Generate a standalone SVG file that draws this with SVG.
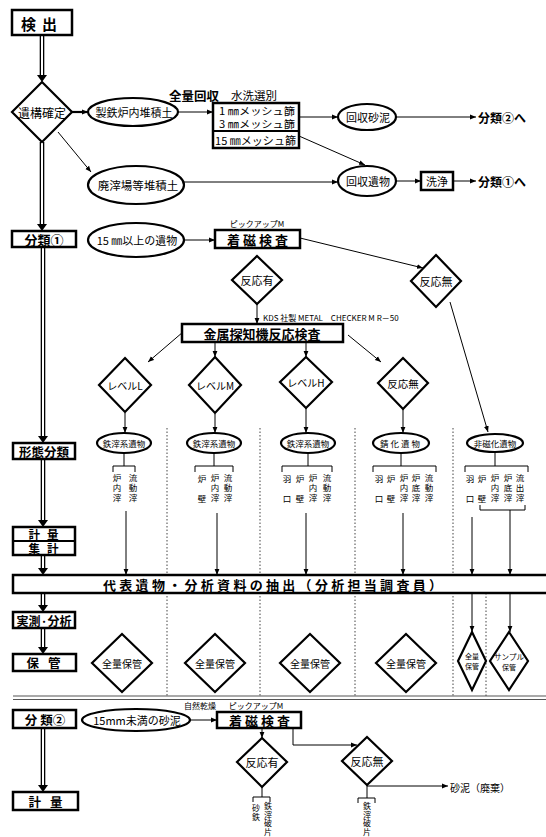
<svg xmlns="http://www.w3.org/2000/svg" width="546" height="837" viewBox="0 0 546 837">
<defs>
<marker id="ar" viewBox="0 0 10 10" refX="10" refY="5" markerWidth="6" markerHeight="6" markerUnits="userSpaceOnUse" orient="auto"><path d="M0,1 L10,5 L0,9 z" fill="#000"/></marker>
</defs>
<style>
text{font-family:"Noto Sans CJK JP","Noto Sans",sans-serif;fill:#000}
.c{text-anchor:middle;dominant-baseline:central}
.m{dominant-baseline:central}
.b{font-weight:bold}
.box{fill:#fff;stroke:#000;stroke-width:2.5}
.sh{fill:#fff;stroke:#000;stroke-width:2.2}
.ln{fill:none;stroke:#000;stroke-width:1}
.ar{fill:none;stroke:#000;stroke-width:1;marker-end:url(#ar)}
.dbo{stroke:#000;stroke-width:4.6;fill:none}
.dbi{stroke:#fff;stroke-width:2;fill:none}
.hd{fill:#000}
.dot{stroke:#444;stroke-width:1;stroke-dasharray:1.5 2;fill:none}
.v{font-size:8.5px;writing-mode:vertical-rl;letter-spacing:1.5px}
.v2{font-size:8px;writing-mode:vertical-rl;letter-spacing:0.5px}
</style>
<rect width="546" height="837" fill="#fff"/>

<g id="dividers">
<path class="dot" d="M167,428V696M260,428V696M355,428V696M453,428V696M486,593V696"/>
<path d="M13,696H546M13,699.5H546" stroke="#555" stroke-width="1.2" fill="none"/>
</g>

<g id="connectors">
<path class="dbo" d="M42,35V76M42,142V225M43,247V437M43,459V521M43,555V569M43,593V606M43,628V648M43,728V786"/>
<path class="dbi" d="M42,35V76M42,142V225M43,247V437M43,459V521M43,555V569M43,593V606M43,628V648M43,728V786"/>
<polygon class="hd" points="37,75 47,75 42,82"/>
<polygon class="hd" points="37,224 47,224 42,231"/>
<polygon class="hd" points="38,436 48,436 43,443"/>
<polygon class="hd" points="38,520 48,520 43,527"/>
<polygon class="hd" points="38,568 48,568 43,575"/>
<polygon class="hd" points="38,605 48,605 43,612"/>
<polygon class="hd" points="38,647 48,647 43,654"/>
<polygon class="hd" points="38,785 48,785 43,792"/>

<path d="M72,112H88" stroke="#000" stroke-width="2.2" fill="none" marker-end="url(#ar)"/>
<path class="ar" d="M58,132L91,172"/>
<path class="ar" d="M178,112H213"/>
<path class="ar" d="M299,117H338"/>
<path class="ar" d="M396,117H476"/>
<path class="ar" d="M299,136L365,165"/>
<path class="ar" d="M184,182H338"/>
<path class="ar" d="M396,181H421"/>
<path class="ar" d="M453,181H476"/>

<path class="ar" d="M184,240H215"/>
<path class="ar" d="M300,238L423,268"/>
<path class="ar" d="M257,304V324"/>
<path class="ar" d="M183,332L148,362"/>
<path class="ar" d="M215,342V357"/>
<path class="ar" d="M306,342V357"/>
<path class="ar" d="M348,335L381,362"/>
<path class="ar" d="M450,302L488,432"/>
<path class="ar" d="M125,413V433"/>
<path class="ar" d="M215,414V433"/>
<path class="ar" d="M306,408V433"/>
<path class="ar" d="M403,409V433"/>

<path class="ln" d="M124,453V466M113,472V466H135V472"/>
<path class="ln" d="M214,453V466M195,472V466H233V472"/>
<path class="ln" d="M308,453V466M282,472V466H332V472"/>
<path class="ln" d="M401,453V466M373,472V466H436V472"/>
<path class="ln" d="M495,453V466M465,472V466H528V472"/>
<path class="ln" d="M480,505V510H525V505"/>

<path class="ar" d="M126,511V575"/>
<path class="ar" d="M217,513V575"/>
<path class="ar" d="M306,513V575"/>
<path class="ar" d="M403,513V575"/>
<path class="ar" d="M472,517V575"/>
<path class="ar" d="M510,510V575"/>
<path class="ar" d="M472,593V632"/>
<path class="ar" d="M510,593V632"/>

<path class="ar" d="M191,720H217"/>
<path class="ar" d="M262,728V738"/>
<path class="ar" d="M293,728V745H357"/>
<path class="ar" d="M367,786H448"/>
<path class="ln" d="M262,787V797M253,802V797H270V802"/>
<path class="ln" d="M367,785V798M358,803V798H375V803"/>
</g>

<g id="n-kenshutsu"><rect class="box" x="12" y="10" width="60" height="25"/><text class="c b" x="42" y="23" font-size="15" letter-spacing="6">検出</text></g>
<g id="n-ikou"><polygon class="sh" points="42,82 72,112 42,142 12,112"/><text class="c" x="42" y="112" font-size="12">遺構確定</text></g>
<g id="n-bunrui1"><rect class="box" x="12" y="231" width="64" height="16"/><text class="c b" x="44" y="239" font-size="13">分類①</text></g>
<g id="n-keitai"><rect class="box" x="13" y="443" width="62" height="16"/><text class="c b" x="44" y="451" font-size="12.5">形態分類</text></g>
<g id="n-keiryo"><rect class="box" x="13" y="527" width="62" height="28"/><path d="M13,541H75" stroke="#000" stroke-width="2"/><text class="c b" x="47" y="534" font-size="11.5" letter-spacing="7">計量</text><text class="c b" x="47" y="548" font-size="11.5" letter-spacing="7">集計</text></g>
<g id="n-jissoku"><rect class="box" x="13" y="612" width="62" height="16"/><text class="c b" x="44" y="620" font-size="12">実測·分析</text></g>
<g id="n-hokan"><rect class="box" x="13" y="654" width="63" height="17"/><text class="c b" x="48" y="662.5" font-size="12.5" letter-spacing="9">保管</text></g>
<g id="n-bunrui2"><rect class="box" x="13" y="710" width="63" height="18"/><text class="c b" x="45" y="719" font-size="12.5">分 類②</text></g>
<g id="n-keiryo2"><rect class="box" x="13" y="792" width="65" height="18"/><text class="c b" x="50" y="801" font-size="12.5" letter-spacing="9">計量</text></g>

<g id="n-seitetsu"><ellipse class="sh" cx="133" cy="112" rx="45" ry="14"/><text class="c" x="134" y="112" font-size="11">製鉄炉内堆積土</text></g>
<g id="n-haisai"><ellipse class="sh" cx="136" cy="185" rx="48" ry="19"/><text class="c" x="138" y="185" font-size="11.5">廃滓場等堆積土</text></g>
<g id="n-label1"><text class="c b" x="194" y="95" font-size="12.5">全量回収</text><text class="c" x="254" y="95" font-size="11.5">水洗選別</text></g>
<g id="n-mesh"><rect class="box" x="213" y="103" width="86" height="45"/><path d="M213,131H299" stroke="#000" stroke-width="2"/>
<text class="m" x="219" y="110.5" font-size="10.5" textLength="76" lengthAdjust="spacingAndGlyphs">1 ㎜メッシュ篩</text>
<text class="m" x="219" y="123.5" font-size="10.5" textLength="76" lengthAdjust="spacingAndGlyphs">3 ㎜メッシュ篩</text>
<text class="m" x="215" y="140" font-size="11" textLength="81" lengthAdjust="spacingAndGlyphs">15 ㎜メッシュ篩</text></g>
<g id="n-kaishu-sadei"><ellipse class="sh" cx="367" cy="117" rx="29" ry="13"/><text class="c" x="368" y="117" font-size="11">回収砂泥</text></g>
<g id="n-kaishu-ibutsu"><ellipse class="sh" cx="367" cy="181" rx="29" ry="15"/><text class="c" x="368" y="181" font-size="11">回収遺物</text></g>
<g id="n-senjo"><rect class="box" x="421" y="172" width="32" height="18"/><text class="c" x="437" y="181" font-size="11">洗浄</text></g>
<g id="n-to2"><text class="m b" x="478" y="117" font-size="12">分類②へ</text></g>
<g id="n-to1"><text class="m b" x="478" y="181" font-size="12">分類①へ</text></g>

<g id="n-15ijo"><ellipse class="sh" cx="136" cy="240" rx="48" ry="17"/><text class="c" x="137" y="240" font-size="11">15 ㎜以上の遺物</text></g>
<g id="n-chakuji1"><text class="c" x="257" y="223" font-size="8">ピックアップM</text><rect class="box" x="215" y="230" width="85" height="18"/><text class="c b" x="259" y="239" font-size="13" letter-spacing="3">着磁検査</text></g>
<g id="n-hanno-ari1"><polygon class="sh" points="257,256 282,280 257,304 232,280"/><text class="c" x="257" y="280" font-size="11">反応有</text></g>
<g id="n-hanno-nashi1"><polygon class="sh" points="436,255 461,281 436,307 411,281"/><text class="c" x="436" y="281" font-size="11">反応無</text></g>
<g id="n-kinzoku"><text class="m" x="263" y="317" font-size="8">KDS 社製 METAL　CHECKER M R－50</text><rect class="box" x="182" y="324" width="161" height="18"/><text class="c" x="262" y="333" font-size="13" font-weight="600">金属探知機反応検査</text></g>
<g id="n-levelL"><polygon class="sh" points="125,358 151,385 125,412 99,385"/><text class="c" x="125" y="385" font-size="10">レベルL</text></g>
<g id="n-levelM"><polygon class="sh" points="215,357 241,385 215,413 189,385"/><text class="c" x="215" y="385" font-size="10">レベルM</text></g>
<g id="n-levelH"><polygon class="sh" points="306,357 332,382 306,408 280,382"/><text class="c" x="306" y="382" font-size="10">レベルH</text></g>
<g id="n-hanno-nashi2"><polygon class="sh" points="403,358 428,383 403,409 378,383"/><text class="c" x="403" y="383" font-size="10.5">反応無</text></g>

<g id="n-tessai1"><ellipse class="sh" cx="124" cy="443" rx="27" ry="10"/><text class="c" x="124" y="443" font-size="8.5">鉄滓系遺物</text></g>
<g id="n-tessai2"><ellipse class="sh" cx="214" cy="443" rx="27" ry="10"/><text class="c" x="214" y="443" font-size="8.5">鉄滓系遺物</text></g>
<g id="n-tessai3"><ellipse class="sh" cx="308" cy="443" rx="27" ry="10"/><text class="c" x="308" y="443" font-size="8.5">鉄滓系遺物</text></g>
<g id="n-sabika"><ellipse class="sh" cx="401" cy="443" rx="28" ry="10"/><text class="c" x="401" y="443" font-size="8.5" letter-spacing="2">錆化遺物</text></g>
<g id="n-hijika"><ellipse class="sh" cx="495" cy="443" rx="28" ry="9"/><text class="c" x="495" y="443" font-size="8.5">非磁化遺物</text></g>

<g id="n-labels">
<text class="v" x="117" y="474">炉内滓</text>
<text class="v" x="133" y="474">流動滓</text>
<text class="v" x="202" y="475">炉　壁</text>
<text class="v" x="215" y="474">炉内滓</text>
<text class="v" x="228" y="474">流動滓</text>
<text class="v" x="287" y="475">羽　口</text>
<text class="v" x="300" y="475">炉　壁</text>
<text class="v" x="313" y="474">炉内滓</text>
<text class="v" x="327" y="474">流動滓</text>
<text class="v" x="379" y="475">羽　口</text>
<text class="v" x="391" y="475">炉　壁</text>
<text class="v" x="404" y="474">炉内滓</text>
<text class="v" x="416" y="474">炉底滓</text>
<text class="v" x="429" y="474">流動滓</text>
<text class="v" x="470" y="475">羽　口</text>
<text class="v" x="482" y="475">炉　壁</text>
<text class="v" x="495" y="474">炉内滓</text>
<text class="v" x="508" y="474">炉底滓</text>
<text class="v" x="520" y="474">流出滓</text>
</g>

<g id="n-band"><rect class="box" x="13" y="575" width="540" height="18"/><text class="m b" x="103" y="584.5" font-size="13" letter-spacing="3.3">代表遺物・分析資料の抽出（分析担当調査員）</text></g>

<g id="n-hokan1"><polygon class="sh" points="122,634 152,663 122,692 92,663"/><text class="c" x="122" y="663" font-size="10">全量保管</text></g>
<g id="n-hokan2"><polygon class="sh" points="215,634 245,663 215,692 185,663"/><text class="c" x="215" y="663" font-size="10">全量保管</text></g>
<g id="n-hokan3"><polygon class="sh" points="310,634 340,663 310,692 280,663"/><text class="c" x="310" y="663" font-size="10">全量保管</text></g>
<g id="n-hokan4"><polygon class="sh" points="406,634 436,663 406,692 376,663"/><text class="c" x="406" y="663" font-size="10">全量保管</text></g>
<g id="n-hokan5"><polygon class="sh" points="472,632 486,661 472,690 458,661"/><text class="c" x="472" y="656" font-size="7">全量</text><text class="c" x="472" y="666" font-size="7">保管</text></g>
<g id="n-hokan6"><polygon class="sh" points="509,632 528,661 509,690 490,661"/><text class="c" x="509" y="656" font-size="7.5">サンプル</text><text class="c" x="509" y="667" font-size="7">保管</text></g>

<g id="n-15miman"><ellipse class="sh" cx="136" cy="720" rx="54" ry="11"/><text class="c" x="137" y="720" font-size="11">15mm未満の砂泥</text></g>
<g id="n-chakuji2"><text class="c" x="200" y="705" font-size="8">自然乾燥</text><text class="c" x="256" y="705" font-size="8">ピックアップM</text><rect class="box" x="217" y="712" width="84" height="16"/><text class="c b" x="261" y="720" font-size="13" letter-spacing="3">着磁検査</text></g>
<g id="n-hanno-ari2"><polygon class="sh" points="262,738 287,762 262,787 237,762"/><text class="c" x="262" y="762" font-size="11">反応有</text></g>
<g id="n-hanno-nashi3"><polygon class="sh" points="367,737 392,761 367,785 342,761"/><text class="c" x="367" y="761" font-size="11">反応無</text></g>
<g id="n-sadei"><text class="m" x="450" y="787" font-size="10">砂泥（廃棄）</text></g>
<g id="n-labels2">
<text class="v2" x="256" y="804">砂鉄</text>
<text class="v2" x="268" y="802">鉄滓破片</text>
<text class="v2" x="367" y="802">鉄滓破片</text>
</g>
</svg>
